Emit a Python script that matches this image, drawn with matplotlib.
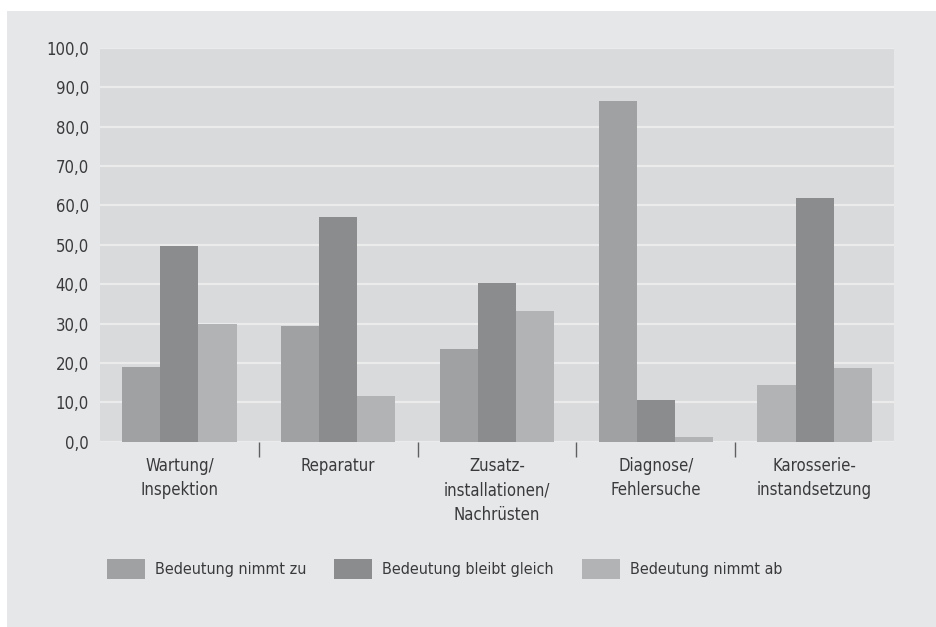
import matplotlib
matplotlib.use("Agg")
from matplotlib import pyplot, font_manager
from matplotlib.patches import Rectangle
from matplotlib.ticker import FuncFormatter, FixedLocator
import numpy

categories = ["Wartung/\nInspektion", "Reparatur", "Zusatz-\ninstallationen/\nNachrüsten",
              "Diagnose/\nFehlersuche", "Karosserie-\ninstandsetzung"]
seriesNames = ["Bedeutung nimmt zu", "Bedeutung bleibt gleich", "Bedeutung nimmt ab"]
nimmtZu = [19.0, 29.5, 23.5, 86.6, 14.3]
bleibtGleich = [49.6, 57.0, 40.4, 10.5, 61.9]
nimmtAb = [30.0, 11.5, 33.2, 1.2, 18.7]
yTicks = [0, 10, 20, 30, 40, 50, 60, 70, 80, 90, 100]

colors = ["#a0a1a3", "#8b8c8e", "#b2b3b5"]
textColor = "#3a3a3c"

# the original uses a condensed sans; pick the narrowest one that is installed
fonts = font_manager.fontManager.ttflist
names = {f.name for f in fonts}
if "Liberation Sans Narrow" in names:
    pyplot.rcParams['font.family'] = ['Liberation Sans Narrow', 'DejaVu Sans']
    fontSize, legendSize = 14, 14
elif any(f.name == "DejaVu Sans" and f.stretch == "condensed" for f in fonts):
    pyplot.rcParams['font.family'] = ['DejaVu Sans']
    pyplot.rcParams['font.stretch'] = 'condensed'
    fontSize, legendSize = 12, 11.5
else:
    pyplot.rcParams['font.family'] = ['Roboto', 'DejaVu Sans']
    fontSize, legendSize = 12, 11.5

figure = pyplot.figure(figsize=(9.36, 6.27), dpi=100, facecolor="white")
figure.patches.append(Rectangle((7/936, 0), 1, 1 - 11/627, transform=figure.transFigure,
                                facecolor="#e6e7e8", edgecolor="none", zorder=-10))

axes = figure.add_axes([100/936, 1 - 441.7/627, (894 - 100)/936, (441.7 - 48)/627])
axes.set_facecolor("#d9dadc")

x = numpy.arange(len(categories))
width = 0.24
bars = []
for i, values in enumerate([nimmtZu, bleibtGleich, nimmtAb]):
    b = axes.bar(x + (i - 1) * width, values, width, color=colors[i], label=seriesNames[i], zorder=3)
    bars.append(b)
# in the original the first Karosserie bar is drawn in the lighter shade
bars[0][4].set_facecolor(colors[2])

axes.set_xlim(-0.5, len(categories) - 0.5)
axes.set_ylim(0, 100)
axes.set_yticks(yTicks)
axes.yaxis.set_major_formatter(FuncFormatter(lambda v, p: f"{v:.1f}".replace(".", ",")))
axes.tick_params(axis="y", length=0, pad=8, labelsize=fontSize, labelcolor=textColor)
axes.yaxis.grid(True, color="#ebebec", linewidth=1.6, zorder=0)
axes.set_axisbelow(True)

axes.xaxis.set_major_locator(FixedLocator(x[:-1] + 0.5))
axes.xaxis.set_major_formatter(FuncFormatter(lambda v, p: ""))
axes.xaxis.set_minor_locator(FixedLocator(x))
axes.set_xticklabels(categories, minor=True)
axes.tick_params(axis="x", which="major", length=11, width=1, color="#606062", direction="out")
axes.tick_params(axis="x", which="minor", length=0, pad=11, labelsize=fontSize, labelcolor=textColor)
for label in axes.get_xticklabels(minor=True):
    label.set_linespacing(1.46)

for spine in axes.spines.values():
    spine.set_visible(False)

# one legend entry per position, as in the original layout
fontPx = legendSize * 100 / 72
for bar, name, left in zip(bars, seriesNames, [107, 334, 582]):
    figure.legend(handles=[bar], labels=[name], loc="upper left",
                  bbox_to_anchor=(left/936, 1 - 559/627), frameon=False,
                  fontsize=legendSize, labelcolor=textColor, handlelength=38 / fontPx,
                  handleheight=24 / fontPx, handletextpad=0.6, borderpad=0, borderaxespad=0)

figure.savefig("out.png", dpi=100, facecolor=figure.get_facecolor())
